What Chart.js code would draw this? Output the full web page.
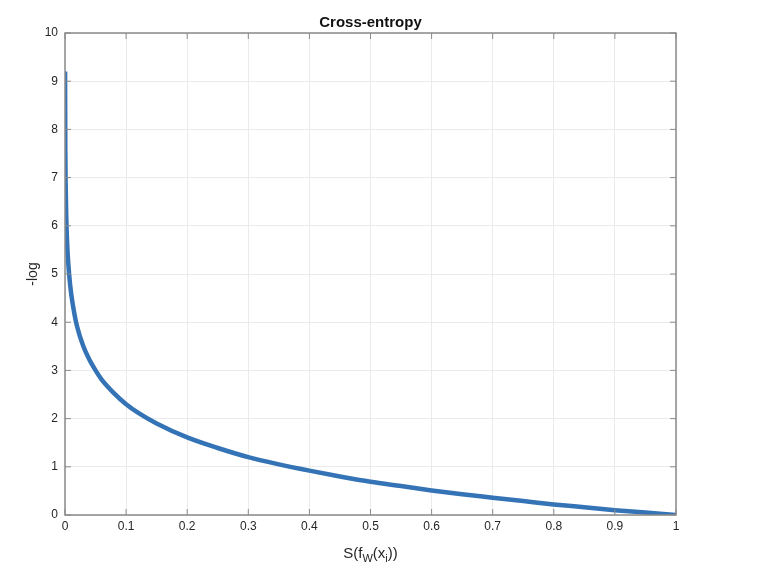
<!DOCTYPE html>
<html>
<head>
<meta charset="utf-8">
<script src="https://cdn.jsdelivr.net/npm/chart.js@4"></script>
<style>
  html, body { margin: 0; padding: 0; background: #fff; }
  #wrap { width: 781px; height: 587px; position: relative; }
</style>
</head>
<body>
<div id="wrap"><canvas id="lossChart"></canvas></div>
<script>
// values
const probValues = [0.0001, 0.0005, 0.001, 0.002, 0.004, 0.007, 0.01, 0.015, 0.02, 0.03,
  0.04, 0.05, 0.06, 0.08, 0.1, 0.12, 0.15, 0.2, 0.25, 0.3, 0.35, 0.4, 0.45, 0.5,
  0.55, 0.6, 0.65, 0.7, 0.75, 0.8, 0.85, 0.9, 0.95, 1];
const lossValues = [9.2, 7.6, 6.9, 6.2, 5.5, 4.96, 4.6, 4.2, 3.9, 3.5,
  3.22, 3.0, 2.81, 2.53, 2.3, 2.12, 1.9, 1.61, 1.39, 1.2, 1.05, 0.92, 0.8, 0.69,
  0.6, 0.51, 0.43, 0.36, 0.29, 0.22, 0.16, 0.1, 0.05, 0];
const xTicks = [0, 0.1, 0.2, 0.3, 0.4, 0.5, 0.6, 0.7, 0.8, 0.9, 1];
const yTicks = [0, 1, 2, 3, 4, 5, 6, 7, 8, 9, 10];

const FONT = "'Liberation Sans', Arial, Helvetica, sans-serif";
const AXIS_COLOR = '#8a8a8a';
const TEXT_COLOR = '#262626';

/** Box, inward ticks and labels, drawn in the MATLAB style */
const matlabFrame = {
  id: 'matlabFrame',
  afterDatasetsDraw(chart) {
    const { ctx, chartArea: a, scales } = chart;
    ctx.save();
    ctx.strokeStyle = AXIS_COLOR;
    ctx.lineWidth = 1.5;
    ctx.strokeRect(a.left, a.top, a.right - a.left, a.bottom - a.top);

    ctx.lineWidth = 1;
    ctx.beginPath();
    xTicks.forEach((v) => {
      const px = scales.x.getPixelForValue(v);
      ctx.moveTo(px, a.bottom); ctx.lineTo(px, a.bottom - 6);
      ctx.moveTo(px, a.top); ctx.lineTo(px, a.top + 6);
    });
    yTicks.forEach((v) => {
      const py = scales.y.getPixelForValue(v);
      ctx.moveTo(a.left, py); ctx.lineTo(a.left + 6, py);
      ctx.moveTo(a.right, py); ctx.lineTo(a.right - 6, py);
    });
    ctx.stroke();

    const cx = (a.left + a.right) / 2;
    ctx.fillStyle = '#111';
    ctx.textAlign = 'center';
    ctx.textBaseline = 'alphabetic';
    ctx.font = `bold 15px ${FONT}`;
    ctx.fillText('Cross-entropy', cx, 27);

    // x label with subscripts: S(f_W(x_i))
    const parts = [
      { t: 'S(f', size: 15, dy: 0 },
      { t: 'W', size: 11, dy: 4 },
      { t: '(x', size: 15, dy: 0 },
      { t: 'i', size: 11, dy: 4 },
      { t: '))', size: 15, dy: 0 },
    ];
    let total = 0;
    parts.forEach((p) => {
      ctx.font = `${p.size}px ${FONT}`;
      p.w = ctx.measureText(p.t).width;
      total += p.w;
    });
    let x = cx - total / 2;
    ctx.textAlign = 'left';
    ctx.fillStyle = TEXT_COLOR;
    parts.forEach((p) => {
      ctx.font = `${p.size}px ${FONT}`;
      ctx.fillText(p.t, x, 558 + p.dy);
      x += p.w;
    });

    ctx.translate(37, (a.top + a.bottom) / 2);
    ctx.rotate(-Math.PI / 2);
    ctx.textAlign = 'center';
    ctx.font = `14px ${FONT}`;
    ctx.fillText('-log', 0, 0);
    ctx.restore();
  },
};

new Chart(document.getElementById('lossChart'), {
  type: 'line',
  data: {
    datasets: [
      {
        data: probValues.map((p, i) => ({ x: p, y: lossValues[i] })),
        borderColor: '#3473b5',
        borderWidth: 4.5,
        pointRadius: 0,
        cubicInterpolationMode: 'monotone',
        fill: false,
      },
    ],
  },
  options: {
    responsive: true,
    maintainAspectRatio: false,
    animation: false,
    layout: { padding: { top: 33, right: 105, left: 0, bottom: 0 } },
    plugins: {
      legend: { display: false },
      tooltip: { enabled: false },
    },
    scales: {
      x: {
        type: 'linear',
        min: 0,
        max: 1,
        afterBuildTicks: (s) => { s.ticks = xTicks.map((v) => ({ value: v })); },
        afterFit: (s) => { s.height = 72; },
        ticks: {
          color: TEXT_COLOR,
          font: { family: FONT, size: 12 },
          padding: 4,
          maxRotation: 0,
          callback: (v) => String(v),
        },
        grid: { color: '#ebebeb', drawTicks: false },
        border: { display: false },
      },
      y: {
        min: 0,
        max: 10,
        afterBuildTicks: (s) => { s.ticks = yTicks.map((v) => ({ value: v })); },
        afterFit: (s) => { s.width = 65; },
        ticks: {
          color: TEXT_COLOR,
          font: { family: FONT, size: 12 },
          padding: 7,
          callback: (v) => String(v),
        },
        grid: { color: '#ebebeb', drawTicks: false },
        border: { display: false },
      },
    },
  },
  plugins: [matlabFrame],
});
</script>
</body>
</html>
